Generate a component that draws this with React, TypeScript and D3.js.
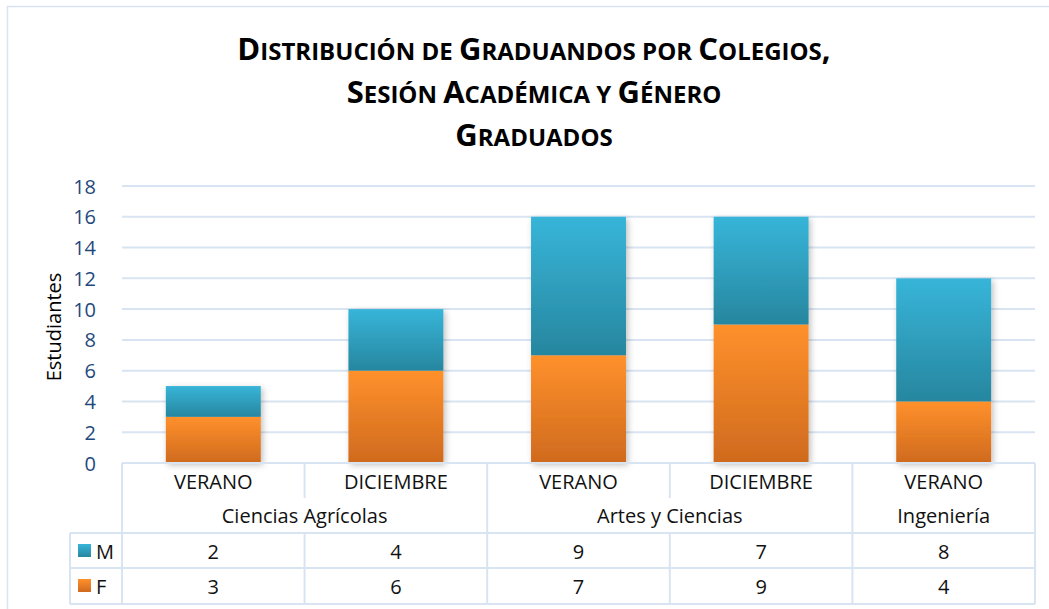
import React, { useEffect, useRef } from 'react';
import * as d3 from 'd3';

// chart values
const sessions = ['VERANO', 'DICIEMBRE', 'VERANO', 'DICIEMBRE', 'VERANO'];
const colleges = ['Ciencias Agrícolas', 'Ciencias Agrícolas', 'Artes y Ciencias', 'Artes y Ciencias', 'Ingeniería'];
const valuesM = [2, 4, 9, 7, 8];
const valuesF = [3, 6, 7, 9, 4];
const yTicks = [0, 2, 4, 6, 8, 10, 12, 14, 16, 18];
const titleLines = ['Distribución de Graduandos por Colegios,', 'Sesión Académica y Género', 'Graduados'];

const GRID = '#d9e4f2';
const FONT = '"Open Sans", Lato, sans-serif';

// split a line into small-caps runs: capitals at full size, the rest smaller
function smallCaps(line: string) {
  const runs: { t: string; big: boolean }[] = [];
  for (const ch of line) {
    const isLetter = ch.toUpperCase() !== ch.toLowerCase();
    const big = isLetter ? ch === ch.toUpperCase() : ch !== ' ';
    const last = runs[runs.length - 1];
    if (last && last.big === big) last.t += ch.toUpperCase();
    else runs.push({ t: ch.toUpperCase(), big });
  }
  return runs;
}

function Chart() {
  const ref = useRef<SVGSVGElement>(null);

  useEffect(() => {
    const svg = d3.select(ref.current);
    svg.selectAll('*').remove();

    const width = 1049, height = 609;
    const left = 122, right = 1035, top = 186, bottom = 463;

    const idx = sessions.map((_, i) => i);
    const x = d3.scaleBand<number>().domain(idx).range([left, right]).paddingInner(0.48).paddingOuter(0.24);
    const y = d3.scaleLinear().domain([0, 18]).range([bottom, top]);
    const step = x.step();
    const cellLeft = (i: number) => left + i * step;

    const defs = svg.append('defs');
    const grad = (id: string, c1: string, c2: string) => {
      const g = defs.append('linearGradient').attr('id', id).attr('x1', 0).attr('y1', 0).attr('x2', 0).attr('y2', 1);
      g.append('stop').attr('offset', '0%').attr('stop-color', c1);
      g.append('stop').attr('offset', '100%').attr('stop-color', c2);
    };
    grad('gM', '#37b5d9', '#27869f');
    grad('gF', '#ff912c', '#cf6a1e');
    const f = defs.append('filter').attr('id', 'shadow').attr('x', '-20%').attr('y', '-20%').attr('width', '140%').attr('height', '140%');
    f.append('feDropShadow').attr('dx', 2).attr('dy', 2).attr('stdDeviation', 3).attr('flood-color', '#000').attr('flood-opacity', 0.25);

    svg.append('rect').attr('width', width).attr('height', height).attr('fill', '#fff');
    // outer chart frame
    svg.append('rect').attr('x', 7.5).attr('y', 6.5).attr('width', 1100).attr('height', 700)
      .attr('fill', 'none').attr('stroke', GRID).attr('stroke-width', 1.5);

    // title
    titleLines.forEach((line, li) => {
      const t = svg.append('text').attr('x', 534).attr('y', 60 + li * 43).attr('text-anchor', 'middle')
        .attr('font-family', FONT).attr('font-weight', 700).attr('fill', '#000');
      smallCaps(line).forEach(r => {
        t.append('tspan').attr('font-size', r.big ? 31 : 24).text(r.t);
      });
    });

    // gridlines
    svg.append('g').selectAll('line').data(yTicks.filter(d => d > 0)).enter().append('line')
      .attr('x1', left).attr('x2', right).attr('y1', d => y(d)).attr('y2', d => y(d))
      .attr('stroke', GRID).attr('stroke-width', 2);

    // y axis labels
    const yAxis = svg.append('g').attr('transform', `translate(${96},0)`)
      .call(d3.axisLeft(y).tickValues(yTicks).tickSize(0).tickPadding(0));
    yAxis.select('.domain').remove();
    yAxis.selectAll('text').attr('font-family', FONT).attr('font-size', 20).attr('fill', '#1f497d')
      .attr('dy', '0.35em');

    svg.append('text').attr('transform', `translate(61,${327}) rotate(-90)`).attr('text-anchor', 'middle')
      .attr('font-family', FONT).attr('font-size', 20).attr('fill', '#000').text('Estudiantes');

    // stacked bars
    const rows = idx.map(i => ({ i, F: valuesF[i], M: valuesM[i] }));
    const stack = d3.stack<any>().keys(['F', 'M'])(rows);
    const layers = svg.append('g').attr('filter', 'url(#shadow)');
    stack.forEach(layer => {
      layers.append('g').selectAll('rect').data(layer).enter().append('rect')
        .attr('x', d => x(d.data.i)!)
        .attr('width', x.bandwidth())
        .attr('y', d => y(d[1]))
        .attr('height', d => y(d[0]) - y(d[1]))
        .attr('fill', `url(#g${layer.key})`);
    });

    // data table
    const tbl = svg.append('g').attr('stroke', GRID).attr('stroke-width', 2);
    tbl.append('line').attr('x1', left).attr('x2', right).attr('y1', bottom).attr('y2', bottom);
    [533, 568, 604].forEach(yy => tbl.append('line').attr('x1', 70).attr('x2', right).attr('y1', yy).attr('y2', yy));
    tbl.append('line').attr('x1', 70).attr('x2', 70).attr('y1', 533).attr('y2', 604);
    for (let i = 0; i <= sessions.length; i++) {
      const sameGroup = i > 0 && i < sessions.length && colleges[i] === colleges[i - 1];
      tbl.append('line').attr('x1', cellLeft(i)).attr('x2', cellLeft(i))
        .attr('y1', bottom).attr('y2', sameGroup ? 498 : 604);
      if (sameGroup) {
        tbl.append('line').attr('x1', cellLeft(i)).attr('x2', cellLeft(i)).attr('y1', 533).attr('y2', 604);
      }
    }

    const txt = svg.append('g').attr('font-family', FONT).attr('font-size', 20).attr('fill', '#111')
      .attr('text-anchor', 'middle').attr('dominant-baseline', 'central');
    txt.selectAll('.cat').data(sessions).enter().append('text')
      .attr('x', (_, i) => cellLeft(i) + step / 2).attr('y', 481).text(d => d);

    const groups: { name: string; start: number; end: number }[] = [];
    colleges.forEach((c, i) => {
      const g = groups[groups.length - 1];
      if (g && g.name === c) g.end = i + 1;
      else groups.push({ name: c, start: i, end: i + 1 });
    });
    txt.selectAll('.col').data(groups).enter().append('text')
      .attr('x', d => (cellLeft(d.start) + cellLeft(d.end)) / 2).attr('y', 515).text(d => d.name);

    const series = [{ key: 'M', vals: valuesM, y: 551 }, { key: 'F', vals: valuesF, y: 586 }];
    series.forEach(s => {
      txt.append('g').selectAll('text').data(s.vals).enter().append('text')
        .attr('x', (_, i) => cellLeft(i) + step / 2).attr('y', s.y).text(d => d);
      svg.append('rect').attr('x', 78).attr('y', s.y - 7).attr('width', 13).attr('height', 13)
        .attr('fill', `url(#g${s.key})`);
      svg.append('text').attr('x', 96).attr('y', s.y).attr('dominant-baseline', 'central')
        .attr('font-family', FONT).attr('font-size', 20).attr('fill', '#111').text(s.key);
    });
  }, []);

  return <svg ref={ref} width={1049} height={609} style={{ position: 'absolute', left: 0, top: 0 }} />;
}

export default function App() {
  return <Chart />;
}
